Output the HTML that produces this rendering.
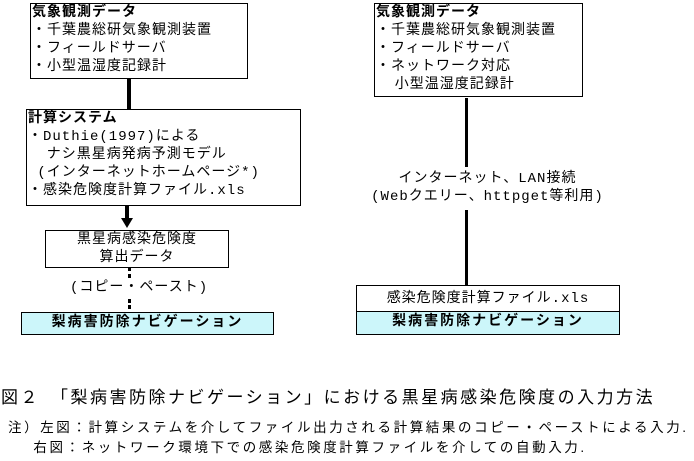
<!DOCTYPE html>
<html><head><meta charset="utf-8"><style>
body{margin:0;width:694px;height:461px;background:#fff;position:relative;overflow:hidden;font-family:"Liberation Mono","Noto Sans CJK JP",monospace;color:#000}
.b{position:absolute;border:1.5px solid #000;box-sizing:border-box;background:#fff}
.t{position:absolute;font-size:14px;line-height:18px;white-space:nowrap;letter-spacing:1px}
.bold{font-weight:bold}
.ln{position:absolute;background:#000}
.nav{background:#ccf6fa;font-weight:bold;text-align:center;font-size:14px;line-height:20px;letter-spacing:2px}
</style></head><body>
<!-- left -->
<div class="b" style="left:30px;top:3px;width:218px;height:76px"></div>
<div class="t" style="left:32px;top:4px"><span class="bold">気象観測データ</span><br>・千葉農総研気象観測装置<br>・フィールドサーバ<br>・小型温湿度記録計</div>
<div class="ln" style="left:127px;top:79px;width:4px;height:30px"></div>
<div class="b" style="left:26px;top:109px;width:275px;height:97px"></div>
<div class="t" style="left:28px;top:110px"><span class="bold">計算システム</span><br>・Duthie(1997)による<br>&nbsp;&nbsp;ナシ黒星病発病予測モデル<br>&nbsp;(インターネットホームページ*)<br>・感染危険度計算ファイル.xls</div>
<div class="ln" style="left:125px;top:206px;width:4px;height:14px"></div>
<div style="position:absolute;left:121px;top:218px;border-left:6px solid transparent;border-right:6px solid transparent;border-top:10px solid #000"></div>
<div class="b" style="left:45px;top:230px;width:184px;height:38px;border-width:1px"></div>
<div class="t" style="left:45px;top:231px;width:184px;text-align:center">黒星病感染危険度<br>算出データ</div>
<div class="ln" style="left:128px;top:268px;width:3px;height:3px"></div>
<div class="ln" style="left:128px;top:274px;width:3px;height:4px"></div>
<div class="t" style="left:70px;top:279px;background:#fff">(コピー・ペースト)</div>
<div class="ln" style="left:128px;top:299px;width:3px;height:4px"></div>
<div class="ln" style="left:128px;top:305px;width:3px;height:4px"></div>
<div class="b nav" style="left:21px;top:312px;width:253px;height:23px">梨病害防除ナビゲーション</div>
<!-- right -->
<div class="b" style="left:374px;top:3px;width:209px;height:94px"></div>
<div class="t" style="left:376px;top:4px"><span class="bold">気象観測データ</span><br>・千葉農総研気象観測装置<br>・フィールドサーバ<br>・ネットワーク対応<br>&nbsp;&nbsp;小型温湿度記録計</div>
<div class="ln" style="left:465px;top:98px;width:3px;height:69px"></div>
<div class="t" style="left:370px;top:170px;width:235px;text-align:center">インターネット、LAN接続<br>(Webクエリー、httpget等利用)</div>
<div class="ln" style="left:465px;top:210px;width:3px;height:80px"></div>
<div class="b" style="left:356px;top:285px;width:264px;height:27px;border-width:1px"></div>
<div class="t" style="left:356px;top:290px;width:264px;text-align:center">感染危険度計算ファイル.xls</div>
<div class="b nav" style="left:356px;top:311px;width:264px;height:24px">梨病害防除ナビゲーション</div>
<!-- caption -->
<div class="t" style="left:1px;top:387px;font-size:17px;line-height:22px;letter-spacing:2.5px;font-family:'Liberation Sans','Noto Sans CJK JP',sans-serif">図２　「梨病害防除ナビゲーション」における黒星病感染危険度の入力方法</div>
<div class="t" style="left:8px;top:418px;font-size:13.5px;line-height:20px;letter-spacing:2.6px;font-family:'Liberation Sans','Noto Sans CJK JP',sans-serif">注）左図：計算システムを介してファイル出力される計算結果のコピー・ペーストによる入力.<br>&nbsp;&nbsp;&nbsp;&nbsp;右図：ネットワーク環境下での感染危険度計算ファイルを介しての自動入力.</div>
</body></html>
